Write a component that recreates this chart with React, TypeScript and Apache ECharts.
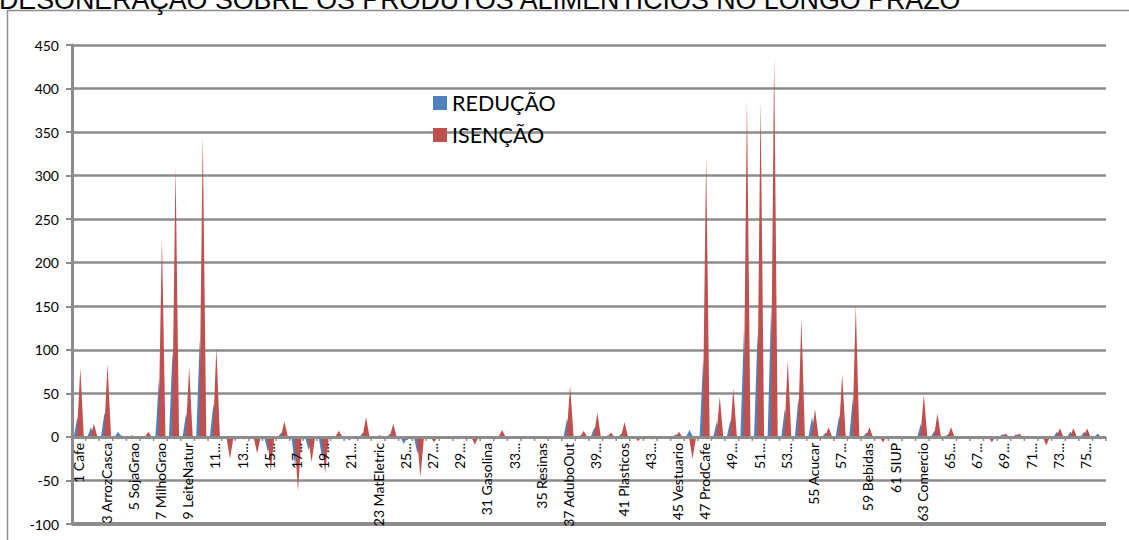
import React, { useEffect, useRef } from "react";
import * as echarts from "echarts";

const TITLE = "DESONERAÇÃO SOBRE OS PRODUTOS ALIMENTÍCIOS NO LONGO PRAZO";

const categories = [
  "1 Cafe", "2 CanaAcucar", "3 ArrozCasca", "4 TrigoGrao", "5 SojaGrao", "6 AlgodaoHerb",
  "7 MilhoGrao", "8 BovinosSuinos", "9 LeiteNatur", "10 AvesVivas", "11...", "12 MinerioFerro",
  "13...", "14 PetroleoGas", "15...", "16 MinNaoMet", "17...", "18 Laminados", "19...",
  "20 OutMetal", "21...", "22 Tratores", "23 MatEletric", "24 EquipEletron", "25...",
  "26 CaminhOnibus", "27...", "28 MadeiraMobil", "29...", "30 PapelGraf", "31 Gasolina",
  "32 OleoCombust", "33...", "34 Alcool", "35 Resinas", "36 OutQuimicos", "37 AduboOut",
  "38 Farmaceutico", "39...", "40 Defensivos", "41 Plasticos", "42 Texteis", "43...",
  "44 Tecidos", "45 Vestuario", "46 Calcados", "47 ProdCafe", "48 ArrozBenef", "49...",
  "50 Farinha", "51...", "52 CarneBov", "53...", "54 LeiteBenef", "55 Acucar", "56 OleoVeg",
  "57...", "58 OutAlim", "59 Bebidas", "60 Fumo", "61 SIUP", "62 Construcao", "63 Comercio",
  "64 Transporte", "65...", "66 InstFinanc", "67...", "68 Aluguel", "69...", "70 ServEmpresas",
  "71...", "72 ServPrivados", "73...", "74 Saude", "75...", "76 ServPublico",
];

const reducao = [
  23, 11, 28, 6, 2, 1, 67, 99, 28, 112, 38, -3, -2, -3, -17, 5, -33, -15, -25, 1,
  -4, 5, 1, 4, -8, -19, -2, -1, -3, -1, -1, 1, -1, -1, -1, -1, 21, 2, 11, 2,
  4, -1, -1, -1, 3, 8, 90, 17, 19, 124, 120, 152, 32, 44, 23, 5, 25, 44, 5, -1,
  -1, -1, 15, 7, 3, -1, -1, -1, 3, 3, -1, -2, 6, 6, 6, 4,
];

const isencao = [
  79, 15, 84, 2, 1, 6, 228, 311, 80, 347, 102, -25, -3, -19, -40, 18, -62, -29, -42, 7,
  -2, 23, 2, 15, -4, -46, -6, -2, -2, -9, -1, 8, -1, -2, -1, -2, 59, 7, 28, 5,
  17, -5, -3, -1, 6, -25, 322, 46, 56, 387, 385, 437, 88, 136, 32, 11, 72, 151, 11, -6,
  -1, -1, 48, 27, 11, -2, -3, -6, 4, 4, -2, -10, 10, 10, 10, -3,
];

const Y_MIN = -100;
const Y_MAX = 450;
const Y_STEP = 50;
const LABEL_EVERY = 2;

const BLUE = "#4F81BD";
const RED = "#C0504D";
const GRAY = "#8c8c8c";
const FONT = "Lato, 'Noto Sans', sans-serif";

function makeRender(offset: number) {
  return (params: any, api: any) => {
    const idx = api.value(0);
    const v = api.value(1);
    const base = api.coord([idx, 0]);
    const tip = api.coord([idx, v]);
    const band = api.size([1, 0])[0];
    const cx = base[0] + offset * band;
    const hw = band * 0.26;
    const color = api.visual("color");
    return {
      type: "polygon",
      shape: {
        points: [
          [cx - hw, base[1]],
          [cx + hw, base[1]],
          [cx, tip[1]],
        ],
      },
      style: { fill: color },
    };
  };
}

// category axis labels and ticks, drawn on the zero line
const renderAxisItem = (params: any, api: any) => {
  const idx = api.value(0);
  const base = api.coord([idx, 0]);
  const band = api.size([1, 0])[0];
  const children: any[] = [
    {
      type: "line",
      shape: { x1: base[0] - band / 2, y1: base[1], x2: base[0] - band / 2, y2: base[1] + 4 },
      style: { stroke: GRAY, lineWidth: 1.5 },
    },
  ];
  if (idx === categories.length - 1) {
    children.push({
      type: "line",
      shape: { x1: base[0] + band / 2, y1: base[1], x2: base[0] + band / 2, y2: base[1] + 4 },
      style: { stroke: GRAY, lineWidth: 1.5 },
    });
  }
  if (idx % LABEL_EVERY === 0) {
    children.push({
      type: "text",
      x: base[0],
      y: base[1] + 6,
      rotation: Math.PI / 2,
      style: {
        text: categories[idx],
        align: "right",
        verticalAlign: "middle",
        fontFamily: FONT,
        fontSize: 14,
        fill: "#000",
      },
    });
  }
  return { type: "group", children };
};

export default function App() {
  const ref = useRef<HTMLDivElement>(null);
  useEffect(() => {
    if (!ref.current) return;
    const chart = echarts.init(ref.current, null, { renderer: "svg" });
    chart.setOption({
      animation: false,
      backgroundColor: "#ffffff",
      title: {
        text: TITLE,
        left: -1,
        top: -14,
        padding: 0,
        textStyle: {
          fontFamily: "'Liberation Sans', Arial, sans-serif",
          fontSize: 26.8,
          fontWeight: "normal",
          color: "#000",
        },
      },
      graphic: [
        {
          type: "rect",
          silent: true,
          z: -10,
          shape: { x: 7.5, y: 10.5, width: 1300, height: 700 },
          style: { fill: "none", stroke: GRAY, lineWidth: 1.5 },
        },
      ],
      legend: {
        orient: "vertical",
        left: 433,
        top: 92,
        padding: 0,
        itemWidth: 14,
        itemHeight: 14,
        itemGap: 10,
        icon: "rect",
        textStyle: { fontFamily: FONT, fontSize: 21.5, color: "#000" },
        data: ["REDUÇÃO", "ISENÇÃO"],
      },
      grid: { left: 72, right: 23, top: 45, bottom: 16, outerBoundsMode: "none", containLabel: false },
      xAxis: {
        type: "category",
        data: categories,
        boundaryGap: true,
        axisLine: { show: false },
        axisTick: { show: false },
        axisLabel: { show: false },
        splitLine: { show: false },
      },
      yAxis: {
        type: "value",
        min: Y_MIN,
        max: Y_MAX,
        interval: Y_STEP,
        axisLine: { show: true, lineStyle: { color: GRAY, width: 3 } },
        axisTick: { show: true, length: 6, lineStyle: { color: GRAY, width: 2 } },
        axisLabel: { fontFamily: FONT, fontSize: 14, color: "#000", margin: 13 },
        splitLine: { show: true, lineStyle: { color: GRAY, width: 2.5 } },
      },
      series: [
        {
          name: "REDUÇÃO",
          type: "custom",
          itemStyle: { color: BLUE },
          encode: { x: 0, y: 1 },
          renderItem: makeRender(-0.11),
          data: reducao.map((v, i) => [i, v]),
          z: 3,
          markLine: {
            silent: true,
            symbol: "none",
            label: { show: false },
            lineStyle: { color: GRAY, width: 4, type: "solid" },
            data: [{ yAxis: Y_MIN }],
          },
        },
        {
          name: "ISENÇÃO",
          type: "custom",
          itemStyle: { color: RED },
          encode: { x: 0, y: 1 },
          renderItem: makeRender(0.11),
          data: isencao.map((v, i) => [i, v]),
          z: 4,
          markLine: {
            silent: true,
            symbol: "none",
            label: { show: false },
            lineStyle: { color: GRAY, width: 3, type: "solid" },
            data: [{ yAxis: 0 }],
          },
        },
        {
          name: "axis",
          type: "custom",
          silent: true,
          clip: false,
          encode: { x: 0, y: 1 },
          renderItem: renderAxisItem,
          data: categories.map((_, i) => [i, 0]),
          z: 5,
        },
      ],
    });
    return () => chart.dispose();
  }, []);
  return (
    <div
      ref={ref}
      style={{ position: "fixed", left: 0, top: 0, width: 1129, height: 540 }}
    />
  );
}
